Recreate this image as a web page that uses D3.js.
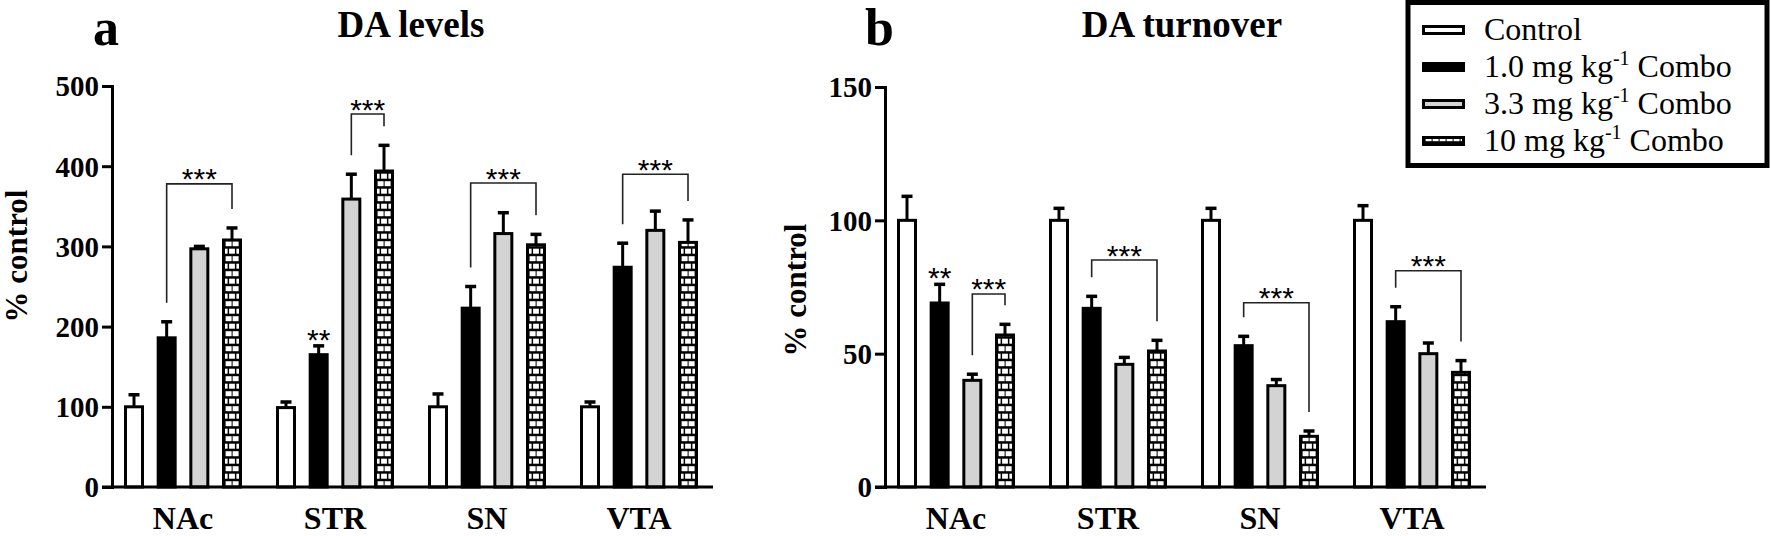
<!DOCTYPE html>
<html>
<head>
<meta charset="utf-8">
<script src="https://cdn.jsdelivr.net/npm/d3@7"></script>
<style>
  body { margin: 0; background: #fff; }
  svg { display: block; }
</style>
</head>
<body>
<script>
// groups and treatments
const categories = ["NAc", "STR", "SN", "VTA"];
const seriesNames = ["Control", "1.0 mg kg-1 Combo", "3.3 mg kg-1 Combo", "10 mg kg-1 Combo"];
const seriesFills = ["#ffffff", "#000000", "#d3d3d3", "url(#brick)"];

// a: DA levels (% control), rows = categories, cols = series
const levelsMean = [[100, 186, 297, 308], [99, 165, 359, 394], [100, 223, 316, 302], [100, 274, 320, 305]];
const levelsErr = [[15, 20, 3, 15], [7, 11, 31, 32], [16, 27, 26, 13], [6, 30, 24, 28]];
const levelsTicks = [0, 100, 200, 300, 400, 500];

// b: DA turnover (% control)
const turnoverMean = [[100, 69, 40, 57], [100, 67, 46, 51], [100, 53, 38, 19], [100, 62, 50, 43]];
const turnoverErr = [[9, 7, 2.3, 4], [4.5, 4.5, 2.6, 4], [4.5, 3.5, 2.3, 2], [5.5, 5.6, 4, 4.4]];
const turnoverTicks = [0, 50, 100, 150];

// significance brackets (from / to = series index)
const levelsBrackets = [
    { cat: "NAc", from: 1, to: 3, level: 378, label: "***" },
    { cat: "STR", from: 2, to: 3, level: 465, label: "***" },
    { cat: "SN", from: 1, to: 3, level: 379, label: "***" },
    { cat: "VTA", from: 1, to: 3, level: 390, label: "***" }
];
const turnoverBrackets = [
    { cat: "NAc", from: 2, to: 3, level: 72.4, label: "***" },
    { cat: "STR", from: 1, to: 3, level: 85.1, label: "***" },
    { cat: "SN", from: 1, to: 3, level: 69.1, label: "***" },
    { cat: "VTA", from: 1, to: 3, level: 81.1, label: "***" }
];
const levelsMarks = [{ cat: "STR", s: 1, label: "**" }];
const turnoverMarks = [{ cat: "NAc", s: 1, label: "**" }];

const W = 1772, H = 536;
const SERIF = "'Liberation Serif', 'Times New Roman', serif";
const SANS = "'Liberation Sans', Arial, sans-serif";

const svg = d3.select("body").append("svg")
    .attr("width", W)
    .attr("height", H);

// brick fill for the 10 mg bars
const pat = svg.append("defs").append("pattern")
    .attr("id", "brick")
    .attr("patternUnits", "userSpaceOnUse")
    .attr("x", 3).attr("y", 0)
    .attr("width", 14).attr("height", 15);
pat.append("rect").attr("width", 14).attr("height", 15).attr("fill", "#000");
[[0.6, 1.2, 6], [7.6, 1.2, 6], [0, 8.7, 2.6], [4.1, 8.7, 5.8], [11.4, 8.7, 2.6]].forEach(b => {
    pat.append("rect").attr("x", b[0]).attr("y", b[1]).attr("width", b[2]).attr("height", 5).attr("fill", "#fff");
});

function drawPanel(cfg) {
    const g = svg.append("g").attr("transform", `translate(${cfg.left},0)`);

    const y = d3.scaleLinear().domain([0, cfg.max]).range([487, cfg.top]);
    const x0 = d3.scaleBand().domain(categories).range([12, 586]).paddingInner(0.2237);
    const x1 = d3.scaleBand().domain(d3.range(seriesNames.length)).range([0, x0.bandwidth()]).paddingInner(0.388);
    const bw = x1.bandwidth();
    const cx = (c, s) => x0(c) + x1(s) + bw / 2;

    // y axis
    const yAxis = g.append("g")
        .call(d3.axisLeft(y).tickValues(cfg.ticks).tickSize(10).tickSizeOuter(0).tickPadding(3));
    yAxis.select(".domain").attr("stroke-width", 3).attr("stroke-linecap", "square");
    yAxis.selectAll(".tick line").attr("stroke-width", 3);
    yAxis.selectAll(".tick text")
        .attr("font-family", SERIF)
        .attr("font-weight", "bold")
        .attr("font-size", 29)
        .attr("fill", "#000")
        .attr("dy", "0.34em");

    g.append("text")
        .attr("transform", `translate(${cfg.titleX},${cfg.titleY}) rotate(-90)`)
        .attr("text-anchor", "middle")
        .attr("font-family", SERIF)
        .attr("font-weight", "bold")
        .attr("font-size", 31)
        .text("% control");

    // bars
    cfg.mean.forEach((row, ci) => {
        const c = categories[ci];
        row.forEach((v, si) => {
            const e = cfg.err[ci][si];
            const bg = g.append("g").attr("transform", `translate(${x0(c) + x1(si)},0)`);
            bg.append("rect")
                .attr("x", 1.5)
                .attr("y", y(v))
                .attr("width", bw - 3)
                .attr("height", y(0) - y(v))
                .attr("fill", seriesFills[si])
                .attr("stroke", "#000")
                .attr("stroke-width", 3);
            bg.append("line")
                .attr("x1", bw / 2).attr("x2", bw / 2)
                .attr("y1", y(v)).attr("y2", y(v + e))
                .attr("stroke", "#000").attr("stroke-width", 3);
            bg.append("line")
                .attr("x1", bw / 2 - 5.5).attr("x2", bw / 2 + 5.5)
                .attr("y1", y(v + e)).attr("y2", y(v + e))
                .attr("stroke", "#000").attr("stroke-width", 3.5);
        });
    });

    // x axis line
    g.append("line")
        .attr("x1", -10).attr("x2", 601)
        .attr("y1", y(0)).attr("y2", y(0))
        .attr("stroke", "#000").attr("stroke-width", 3);

    g.selectAll(".cat")
        .data(categories)
        .join("text")
        .attr("x", d => x0(d) + x0.bandwidth() / 2)
        .attr("y", 529)
        .attr("text-anchor", "middle")
        .attr("font-family", SERIF)
        .attr("font-weight", "bold")
        .attr("font-size", 32)
        .text(d => d);

    // brackets
    cfg.brackets.forEach(b => {
        const ci = categories.indexOf(b.cat);
        const xl = cx(b.cat, b.from), xr = cx(b.cat, b.to);
        const by = y(b.level);
        const yl = y(cfg.mean[ci][b.from] + cfg.err[ci][b.from]) - 19;
        const yr = y(cfg.mean[ci][b.to] + cfg.err[ci][b.to]) - 19;
        g.append("path")
            .attr("d", `M${xl},${yl}V${by}H${xr}V${yr}`)
            .attr("fill", "none")
            .attr("stroke", "#222")
            .attr("stroke-width", 1.6);
        g.append("text")
            .attr("x", (xl + xr) / 2)
            .attr("y", by + 5.5)
            .attr("text-anchor", "middle")
            .attr("font-family", SANS)
            .attr("font-size", 30)
            .text(b.label);
    });

    cfg.marks.forEach(m => {
        const ci = categories.indexOf(m.cat);
        g.append("text")
            .attr("x", cx(m.cat, m.s))
            .attr("y", y(cfg.mean[ci][m.s] + cfg.err[ci][m.s]) + 4)
            .attr("text-anchor", "middle")
            .attr("font-family", SANS)
            .attr("font-size", 30)
            .text(m.label);
    });
}

drawPanel({ left: 112, top: 86, max: 500, ticks: levelsTicks, mean: levelsMean, err: levelsErr,
    brackets: levelsBrackets, marks: levelsMarks, titleX: -85, titleY: 256 });
drawPanel({ left: 885, top: 87, max: 150, ticks: turnoverTicks, mean: turnoverMean, err: turnoverErr,
    brackets: turnoverBrackets, marks: turnoverMarks, titleX: -79, titleY: 290 });

// panel letters and titles
const heads = [
    { t: "a", x: 93, y: 45, size: 52, anchor: "start" },
    { t: "DA levels", x: 411, y: 37, size: 37, anchor: "middle" },
    { t: "b", x: 865, y: 45, size: 52, anchor: "start" },
    { t: "DA turnover", x: 1182, y: 37, size: 37, anchor: "middle" }
];
svg.selectAll(".head")
    .data(heads)
    .join("text")
    .attr("x", d => d.x)
    .attr("y", d => d.y)
    .attr("text-anchor", d => d.anchor)
    .attr("font-family", SERIF)
    .attr("font-weight", "bold")
    .attr("font-size", d => d.size)
    .text(d => d.t);

// legend
const lg = svg.append("g");
lg.append("rect")
    .attr("x", 1408).attr("y", 2.5)
    .attr("width", 359).attr("height", 163)
    .attr("fill", "#fff")
    .attr("stroke", "#000")
    .attr("stroke-width", 5);

seriesNames.forEach((name, i) => {
    const base = 40 + i * 37;
    const sg = lg.append("g").attr("transform", `translate(1422,0)`);
    sg.append("rect")
        .attr("x", 1.5).attr("y", base - 15 + 1.5)
        .attr("width", 40).attr("height", 7)
        .attr("fill", seriesFills[i])
        .attr("stroke", "#000")
        .attr("stroke-width", 3);
    const parts = name.split("-1");
    const txt = lg.append("text")
        .attr("x", 1484).attr("y", base)
        .attr("font-family", SERIF)
        .attr("font-size", 32);
    txt.append("tspan").text(parts[0]);
    if (parts.length > 1) {
        txt.append("tspan").attr("dy", -12).attr("font-size", 20).text("-1");
        txt.append("tspan").attr("dy", 12).text(parts[1]);
    }
});
</script>
</body>
</html>
